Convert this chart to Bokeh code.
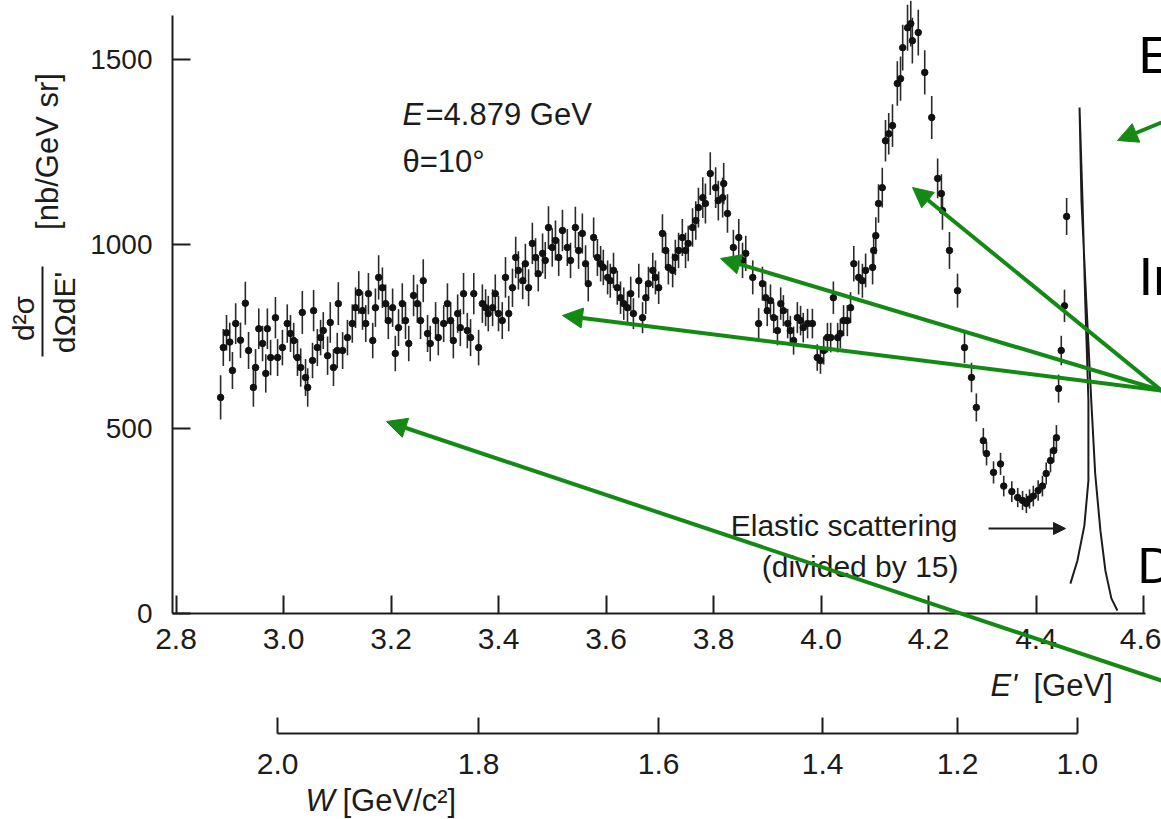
import math
from bokeh.plotting import figure
from bokeh.models import LinearAxis, FixedTicker, Label, Arrow, NormalHead, ColumnDataSource, NumeralTickFormatter
from bokeh.embed import file_html
from bokeh.resources import INLINE

# ---------------- data ----------------
e_prime = [
    2.883, 2.888, 2.894, 2.900, 2.905, 2.911, 2.920, 2.929, 2.935, 2.944,
    2.948, 2.954, 2.961, 2.967, 2.970, 2.976, 2.985, 2.989, 2.998, 3.007,
    3.013, 3.019, 3.026, 3.032, 3.035, 3.041, 3.045, 3.054, 3.056, 3.063,
    3.069, 3.074, 3.082, 3.087, 3.093, 3.100, 3.102, 3.110, 3.119, 3.128,
    3.134, 3.140, 3.147, 3.153, 3.158, 3.166, 3.171, 3.177, 3.184, 3.190,
    3.195, 3.203, 3.208, 3.214, 3.221, 3.227, 3.233, 3.242, 3.249, 3.255,
    3.260, 3.268, 3.273, 3.283, 3.288, 3.298, 3.305, 3.311, 3.316, 3.324,
    3.329, 3.335, 3.342, 3.348, 3.354, 3.363, 3.370, 3.376, 3.381, 3.389,
    3.394, 3.400, 3.407, 3.413, 3.419, 3.426, 3.432, 3.437, 3.445, 3.450,
    3.456, 3.463, 3.469, 3.474, 3.482, 3.487, 3.493, 3.500, 3.506, 3.512,
    3.519, 3.528, 3.534, 3.543, 3.549, 3.556, 3.562, 3.567, 3.577, 3.584,
    3.590, 3.595, 3.603, 3.608, 3.614, 3.621, 3.627, 3.633, 3.640, 3.646,
    3.651, 3.661, 3.668, 3.674, 3.679, 3.687, 3.692, 3.698, 3.705, 3.711,
    3.716, 3.724, 3.729, 3.735, 3.742, 3.748, 3.753, 3.761, 3.767, 3.772,
    3.780, 3.785, 3.794, 3.804, 3.809, 3.817, 3.819, 3.826, 3.837, 3.847,
    3.854, 3.860, 3.873, 3.884, 3.891, 3.897, 3.900, 3.906, 3.912, 3.919,
    3.925, 3.930, 3.938, 3.943, 3.949, 3.956, 3.962, 3.967, 3.975, 3.984,
    3.993, 3.999, 4.005, 4.012, 4.018, 4.023, 4.031, 4.036, 4.042, 4.049,
    4.055, 4.061, 4.070, 4.077, 4.083, 4.096, 4.098, 4.102, 4.107, 4.114,
    4.120, 4.126, 4.133, 4.142, 4.148, 4.152, 4.161, 4.167, 4.170, 4.181,
    4.193, 4.206, 4.217, 4.224, 4.226, 4.239, 4.254, 4.267, 4.280, 4.289,
    4.302, 4.308, 4.321, 4.334, 4.340, 4.355, 4.366, 4.375, 4.382, 4.388,
    4.395, 4.404, 4.412, 4.419, 4.427, 4.433, 4.438, 4.442, 4.447, 4.453,
    4.457,
]

sigma = [
    585, 720, 760, 735, 658, 785, 740, 840, 712, 612,
    666, 771, 731, 650, 771, 693, 801, 693, 720, 785,
    758, 739, 693, 666, 815, 639, 612, 685, 820, 720,
    747, 766, 698, 788, 666, 712, 839, 712, 747, 785,
    828, 869, 820, 785, 866, 739, 828, 910, 882, 839,
    793, 828, 704, 774, 839, 793, 731, 861, 839, 793,
    901, 758, 731, 793, 747, 785, 839, 793, 739, 812,
    774, 866, 766, 747, 866, 720, 839, 828, 812, 828,
    866, 812, 793, 910, 812, 882, 964, 929, 901, 947,
    882, 1002, 964, 920, 975, 956, 1045, 991, 1010, 964,
    1037, 991, 956, 1045, 983, 1029, 947, 893, 1018, 964,
    947, 937, 910, 901, 929, 882, 855, 839, 828, 866,
    812, 901, 801, 855, 893, 929, 910, 882, 1029, 983,
    937, 929, 964, 983, 1018, 983, 1002, 1045, 1064, 1099,
    1126, 1110, 1191, 1153, 1118, 1126, 1164, 1083, 991, 1018,
    956, 975, 910, 785, 893, 855, 820, 847, 801, 766,
    839, 820, 785, 766, 739, 801, 793, 774, 785, 785,
    693, 685, 712, 747, 747, 855, 747, 758, 793, 793,
    828, 947, 910, 901, 929, 937, 983, 1023, 1110, 1153,
    1280, 1299, 1321, 1435, 1448, 1532, 1586, 1597, 1551, 1573,
    1465, 1343, 1178, 1137, 1091, 983, 874, 720, 639, 558,
    468, 433, 382, 405, 345, 330, 314, 306, 298, 310,
    318, 333, 345, 379, 414, 441, 476, 609, 712, 833,
    1075,
]

err = [
    60, 50, 48, 52, 50, 55, 48, 58, 50, 52,
    50, 55, 48, 52, 55, 48, 56, 50, 48, 52,
    50, 48, 50, 52, 58, 50, 52, 48, 56, 50,
    48, 50, 52, 55, 50, 48, 58, 50, 48, 52,
    55, 58, 52, 50, 56, 48, 52, 60, 55, 52,
    50, 52, 48, 50, 55, 50, 48, 56, 52, 50,
    58, 50, 48, 50, 48, 50, 55, 50, 48, 52,
    50, 56, 48, 50, 56, 48, 52, 50, 48, 50,
    52, 48, 50, 55, 48, 52, 56, 52, 50, 54,
    50, 56, 52, 48, 54, 50, 58, 52, 54, 50,
    56, 50, 48, 56, 50, 54, 50, 48, 54, 50,
    48, 48, 46, 46, 48, 46, 44, 44, 44, 46,
    42, 46, 42, 44, 46, 48, 46, 44, 52, 48,
    46, 46, 48, 48, 50, 48, 48, 52, 52, 54,
    55, 54, 58, 55, 54, 54, 56, 52, 48, 50,
    48, 48, 46, 42, 46, 44, 42, 44, 42, 40,
    44, 42, 40, 40, 38, 42, 40, 40, 40, 40,
    36, 36, 38, 40, 40, 44, 40, 40, 42, 42,
    42, 48, 46, 46, 46, 46, 48, 50, 52, 54,
    56, 56, 58, 60, 60, 62, 62, 62, 62, 62,
    60, 58, 54, 52, 52, 50, 46, 42, 40, 38,
    34, 32, 30, 30, 28, 28, 26, 26, 26, 26,
    28, 28, 28, 30, 32, 32, 34, 38, 40, 44,
    50,
]

# elastic peak (divided by 15)
elastic_e = [4.464, 4.477, 4.490, 4.4975, 4.4975, 4.4916, 4.4865, 4.481,
             4.4846, 4.4935, 4.5028, 4.5101, 4.5198, 4.5291, 4.5402, 4.5514]
elastic_sigma = [81, 143, 238, 360, 577, 847, 1118, 1370,
                 1118, 847, 577, 379, 225, 116, 41, 8]

eprime_ticks = [2.8, 3.0, 3.2, 3.4, 3.6, 3.8, 4.0, 4.2, 4.4, 4.6]
sigma_ticks = [0, 500, 1000, 1500]
w_tick_labels = ["2.0", "1.8", "1.6", "1.4", "1.2", "1.0"]
w_tick_eprime = [2.989, 3.363, 3.698, 4.003, 4.254, 4.477]

FONT = "Liberation Sans"
INK = "#1c1c1c"
GREEN = "#138a13"

W_PX, H_PX = 1161, 819


# canvas pixel -> data position (used only to place annotations and axes)
def gx(px):
    return 3.0 + (px - 283) / 537.5


def gy(py):
    return (613 - py) * 1500.0 / 554.0


p = figure(width=W_PX, height=H_PX, x_range=(gx(0), gx(W_PX)), y_range=(gy(H_PX), gy(0)),
           output_backend="svg", toolbar_location=None,
           x_axis_location=None, y_axis_location=None,
           min_border_left=0, min_border_right=0, min_border_top=0, min_border_bottom=0)
p.outline_line_color = None
p.grid.visible = False
p.background_fill_color = "white"
p.border_fill_color = "white"

axis_style = dict(minor_tick_line_color=None, major_tick_out=0,
                  axis_line_width=2, major_tick_line_width=2,
                  axis_line_color=INK, major_tick_line_color=INK,
                  major_label_text_font=FONT, major_label_text_color=INK)

# E' axis
xa = LinearAxis(ticker=FixedTicker(ticks=eprime_ticks), formatter=NumeralTickFormatter(format="0.0"),
                fixed_location=0, bounds=(gx(172), gx(1145)), major_tick_in=18,
                major_label_text_font_size="30px", major_label_standoff=15, **axis_style)
p.add_layout(xa, "below")

# W axis (nonlinear in E', tick positions)
overrides = {}
for pos, lab in zip(w_tick_eprime, w_tick_labels):
    overrides[pos] = lab
wa = LinearAxis(ticker=FixedTicker(ticks=w_tick_eprime), major_label_overrides=overrides,
                fixed_location=gy(733), bounds=(w_tick_eprime[0], w_tick_eprime[-1]),
                major_tick_in=16, major_label_text_font_size="30px", major_label_standoff=20,
                **axis_style)
p.add_layout(wa, "below")

# cross-section axis
ya = LinearAxis(ticker=FixedTicker(ticks=sigma_ticks), fixed_location=gx(172),
                bounds=(0, gy(15)), major_tick_in=18,
                major_label_text_font_size="28px", major_label_standoff=20, **axis_style)
p.add_layout(ya, "left")

# data
src = ColumnDataSource(dict(
    x=e_prime, y=sigma,
    lo=[s - e for s, e in zip(sigma, err)],
    hi=[s + e for s, e in zip(sigma, err)],
))
p.segment(x0="x", y0="lo", x1="x", y1="hi", source=src, line_color="#2a2a2a", line_width=1.6)
p.scatter("x", "y", source=src, size=6.5, color="#111111")
p.line(elastic_e, elastic_sigma, line_color=INK, line_width=2)


# texts are placed by the vertical centre of their capitals
def label(text, px, py, size, style="normal", align="left", angle=0.0, color=INK):
    p.add_layout(Label(x=gx(px), y=gy(py), text=text, text_font=FONT, text_font_size=f"{size}px",
                       text_font_style=style, text_align=align, text_baseline="middle",
                       angle=angle, text_color=color))


label("E", 402, 114, 31, style="italic")
label("=4.879 GeV", 425, 114, 31)
label("θ=10°", 402, 161, 31)
label("Elastic scattering", 957, 525, 30, align="right")
label("(divided by 15)", 958, 566, 30, align="right")

# axis titles
label("[nb/GeV sr]", 46.5, 151, 31, align="center", angle=math.pi / 2)
label("d²σ", 23, 318, 30, align="center", angle=math.pi / 2)
label("dΩdE'", 64, 312, 30, align="center", angle=math.pi / 2)
p.add_layout(Arrow(end=None, x_start=gx(42), y_start=gy(266), x_end=gx(42), y_end=gy(356),
                   line_color=INK, line_width=2))
label("E'", 990, 685, 31, style="italic")
label("[GeV]", 1033, 685, 31)
label("W", 305, 800, 31, style="italic")
label("[GeV/c²]", 342, 800, 31)

# cut-off slide labels on the right
label("E", 1138, 54, 52, color="black")
label("In", 1138, 276, 53, color="black")
label("D", 1137, 565, 50, color="black")

# black arrow pointing to the elastic peak
p.add_layout(Arrow(end=NormalHead(size=12, fill_color=INK, line_color=INK),
                   x_start=gx(988), y_start=gy(528), x_end=gx(1065), y_end=gy(528),
                   line_color=INK, line_width=2))

# green arrows (canvas pixels: start, tip)
green_arrows = [
    ((1161, 122), (1117, 140)),
    ((1161, 390), (912, 187)),
    ((1161, 390), (720, 258)),
    ((1161, 390), (562, 315)),
    ((1161, 680), (386, 421)),
]
for (xs, ys), (xe, ye) in green_arrows:
    p.add_layout(Arrow(end=NormalHead(size=20, fill_color=GREEN, line_color=GREEN),
                       x_start=gx(xs), y_start=gy(ys), x_end=gx(xe), y_end=gy(ye),
                       line_color=GREEN, line_width=4))

open("out.html", "w").write(file_html(p, INLINE))
